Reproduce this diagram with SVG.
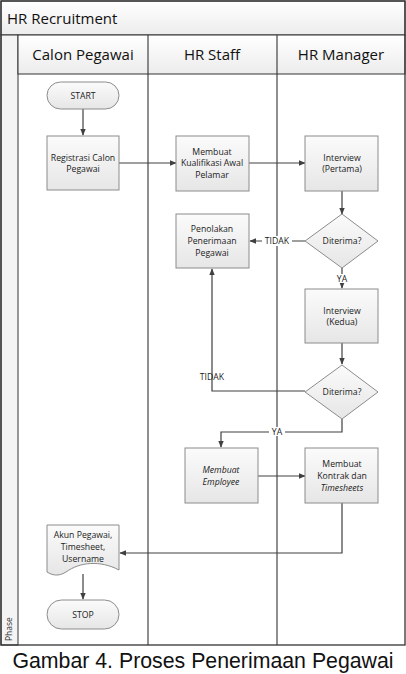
<svg xmlns="http://www.w3.org/2000/svg" width="406" height="674" viewBox="0 0 406 674">
<defs>
<linearGradient id="gb" x1="0" y1="0" x2="0" y2="1"><stop offset="0" stop-color="#fbfbfb"/><stop offset="1" stop-color="#e6e6e6"/></linearGradient>
<linearGradient id="gh" x1="0" y1="0" x2="0" y2="1"><stop offset="0" stop-color="#ffffff"/><stop offset="1" stop-color="#ececec"/></linearGradient>
<marker id="ar" viewBox="0 0 10 10" refX="9" refY="5" markerWidth="7" markerHeight="7" markerUnits="userSpaceOnUse" orient="auto"><path d="M0,1 L10,5 L0,9 Z" fill="#404040"/></marker>
</defs>
<style>
.fr{fill:none;stroke:#333;stroke-width:1.3}
.hd{fill:url(#gh);stroke:#333;stroke-width:1}
.bx{fill:url(#gb);stroke:#8c8c8c;stroke-width:1}
.t{font-family:"Open Sans","Liberation Sans",sans-serif;font-size:8.7px;fill:#222;text-anchor:middle}
.h{font-family:"Open Sans","Liberation Sans",sans-serif;font-size:15px;fill:#111;text-anchor:middle}
.c{fill:none;stroke:#404040;stroke-width:1.2}
.l{font-family:"Open Sans","Liberation Sans",sans-serif;font-size:8.7px;fill:#222;text-anchor:middle}
</style>
<rect width="406" height="674" fill="#fff"/>
<g id="pool">
<rect x="1" y="1" width="404" height="34" class="hd"/>
<text x="7" y="24" style="font-family:'Open Sans','Liberation Sans',sans-serif;font-size:15px;fill:#111">HR Recruitment</text>
<rect x="1" y="35" width="17" height="610" fill="#f4f4f4" stroke="#333" stroke-width="1"/>
<text transform="translate(12,641) rotate(-90)" style="font-family:'Open Sans','Liberation Sans',sans-serif;font-size:8.5px;fill:#333">Phase</text>
<rect x="18" y="35" width="387" height="39" class="hd"/>
<line x1="148" y1="35" x2="148" y2="645" stroke="#333" stroke-width="1.1"/>
<line x1="277" y1="35" x2="277" y2="645" stroke="#333" stroke-width="1.1"/>
<text x="83" y="60" class="h">Calon Pegawai</text>
<text x="212" y="60" class="h">HR Staff</text>
<text x="341" y="60" class="h">HR Manager</text>
<rect x="1" y="1" width="404" height="644" class="fr"/>
</g>
<g id="connectors">
<line x1="83" y1="109" x2="83" y2="135" class="c" marker-end="url(#ar)"/>
<line x1="119" y1="163" x2="176" y2="163" class="c" marker-end="url(#ar)"/>
<line x1="249" y1="163" x2="305" y2="163" class="c" marker-end="url(#ar)"/>
<line x1="342" y1="191" x2="342" y2="214" class="c" marker-end="url(#ar)"/>
<line x1="305" y1="241" x2="250" y2="241" class="c" marker-end="url(#ar)"/>
<rect x="262" y="236" width="30" height="10" fill="#fff"/>
<text x="277" y="244" class="l">TIDAK</text>
<line x1="342" y1="268" x2="342" y2="288" class="c" marker-end="url(#ar)"/>
<rect x="334" y="274" width="16" height="9" fill="#fff"/>
<text x="342" y="282" class="l">YA</text>
<line x1="342" y1="343" x2="342" y2="364" class="c" marker-end="url(#ar)"/>
<polyline points="305,391 212,391 212,269" class="c" marker-end="url(#ar)"/>
<text x="212" y="380" class="l">TIDAK</text>
<polyline points="342,419 342,432 221,432 221,447" class="c" marker-end="url(#ar)"/>
<rect x="269" y="427" width="16" height="9" fill="#fff"/>
<text x="277" y="435" class="l">YA</text>
<line x1="258" y1="476" x2="305" y2="476" class="c" marker-end="url(#ar)"/>
<polyline points="342,503 342,553 120,553" class="c" marker-end="url(#ar)"/>
<line x1="83" y1="574" x2="83" y2="599" class="c" marker-end="url(#ar)"/>
</g>
<g id="start">
<rect x="47" y="82" width="72" height="27" rx="13.5" class="bx"/>
<text x="83" y="99" class="t">START</text>
</g>
<g id="registrasi">
<rect x="47" y="136" width="72" height="54" class="bx"/>
<text x="83" y="161" class="t">Registrasi Calon</text>
<text x="83" y="172" class="t">Pegawai</text>
</g>
<g id="kualifikasi">
<rect x="176" y="136" width="73" height="55" class="bx"/>
<text x="212" y="155" class="t">Membuat</text>
<text x="212" y="166" class="t">Kualifikasi Awal</text>
<text x="212" y="178" class="t">Pelamar</text>
</g>
<g id="interview1">
<rect x="305" y="136" width="73" height="55" class="bx"/>
<text x="342" y="161" class="t">Interview</text>
<text x="342" y="172" class="t">(Pertama)</text>
</g>
<g id="diterima1">
<polygon points="342,214 378,241 342,268 305,241" class="bx"/>
<text x="342" y="244" class="t">Diterima?</text>
</g>
<g id="penolakan">
<rect x="176" y="214" width="73" height="54" class="bx"/>
<text x="212" y="232" class="t">Penolakan</text>
<text x="212" y="244" class="t">Penerimaan</text>
<text x="212" y="256" class="t">Pegawai</text>
</g>
<g id="interview2">
<rect x="305" y="289" width="73" height="54" class="bx"/>
<text x="342" y="314" class="t">Interview</text>
<text x="342" y="325" class="t">(Kedua)</text>
</g>
<g id="diterima2">
<polygon points="342,365 378,392 342,419 305,392" class="bx"/>
<text x="342" y="395" class="t">Diterima?</text>
</g>
<g id="employee">
<rect x="185" y="448" width="73" height="55" class="bx"/>
<text x="221" y="473" class="t" font-style="italic">Membuat</text>
<text x="221" y="485" class="t" font-style="italic">Employee</text>
</g>
<g id="kontrak">
<rect x="305" y="448" width="73" height="55" class="bx"/>
<text x="342" y="467" class="t">Membuat</text>
<text x="342" y="479" class="t">Kontrak dan</text>
<text x="342" y="491" class="t" font-style="italic">Timesheets</text>
</g>
<g id="akun">
<path d="M47,525 H119 V570 C100,560 80,562 66,572 C58,577 52,575 47,572 Z" class="bx"/>
<text x="83" y="538" class="t">Akun Pegawai,</text>
<text x="83" y="550" class="t">Timesheet,</text>
<text x="83" y="562" class="t">Username</text>
</g>
<g id="stop">
<rect x="47" y="600" width="72" height="29" rx="14.5" class="bx"/>
<text x="83" y="618" class="t">STOP</text>
</g>
<text x="203" y="668" style="font-family:'Liberation Sans',Arial,sans-serif;font-size:21.3px;fill:#111;text-anchor:middle">Gambar 4. Proses Penerimaan Pegawai</text>
</svg>
